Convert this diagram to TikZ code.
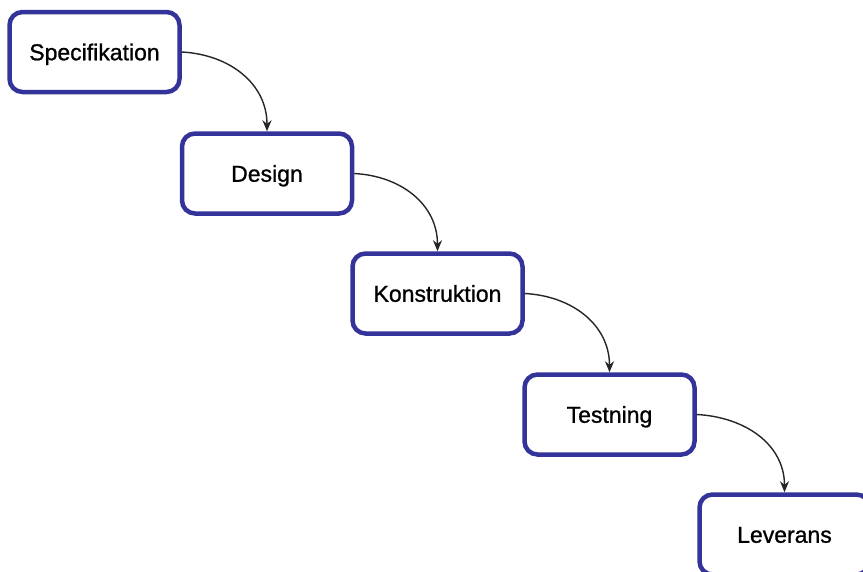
\documentclass[tikz,border=0pt]{standalone}
\usepackage{fontspec}
\setmainfont{Liberation Sans}
\newfontfamily\boxfont{Liberation Sans}[FakeBold=0.9]
\usetikzlibrary{arrows.meta}
\definecolor{boxblue}{RGB}{51,51,153}
\tikzset{
  phase/.style={draw=boxblue, line width=4.5pt, rounded corners=13pt,
    fill=white, minimum width=170pt, minimum height=80pt, inner sep=0pt,
    text height=16.5pt, text depth=0pt,
    font=\boxfont\fontsize{23}{27}\selectfont, text=black},
  flow/.style={draw=black!85, line width=1.4pt,
    -{Stealth[length=11pt,width=9pt]}, out=-3, in=90, looseness=1.05}
}
\begin{document}
\begin{tikzpicture}[x=1pt, y=-1pt]
  \useasboundingbox (0,0) rectangle (863,571);
  \clip (0,0) rectangle (863,571);
  % the five phases of the waterfall
  \node[phase] (spec) at (94.5,52)    {Specifikation};
  \node[phase] (des)  at (267,173.5)  {Design};
  \node[phase] (kon)  at (437.5,293.5){Konstruktion};
  \node[phase] (test) at (609.5,414.5){Testning};
  \node[phase] (lev)  at (784.5,534.5){Leverans};
  % curved hand-over arrows
  \draw[flow] (spec.east) to (des.north);
  \draw[flow] (des.east)  to (kon.north);
  \draw[flow] (kon.east)  to (test.north);
  \draw[flow] (test.east) to (lev.north);
\end{tikzpicture}
\end{document}
